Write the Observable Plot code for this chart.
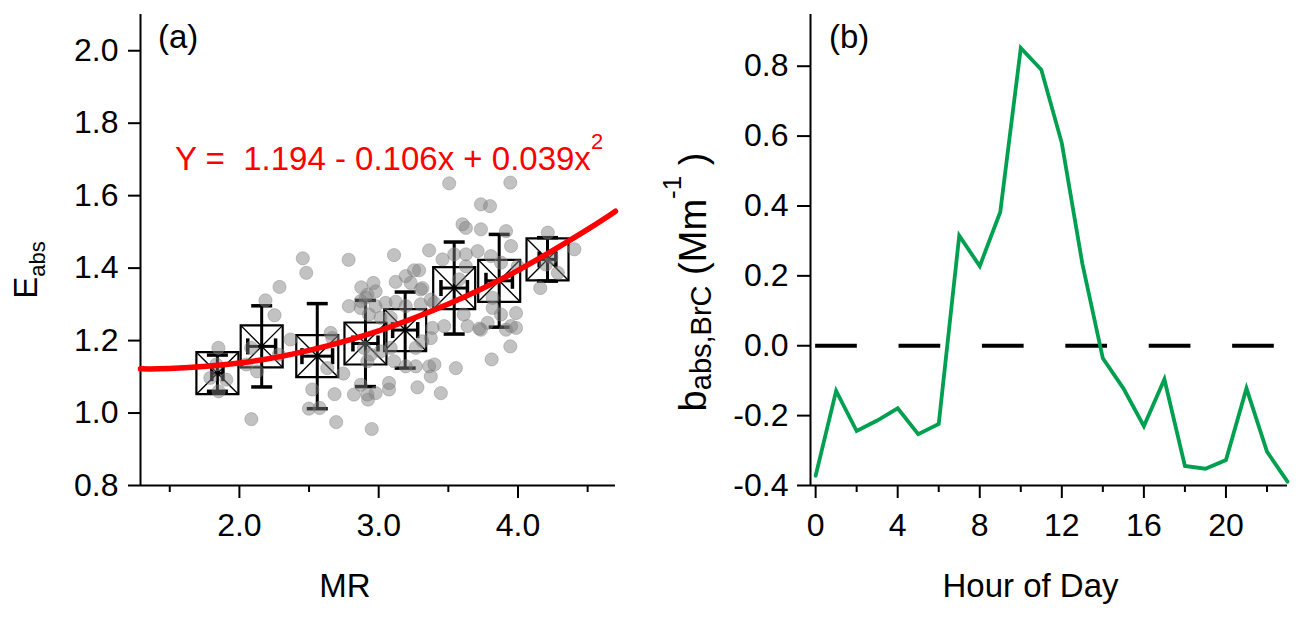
<!DOCTYPE html>
<html><head><meta charset="utf-8">
<script src="https://cdn.jsdelivr.net/npm/d3@7"></script>
<script src="https://cdn.jsdelivr.net/npm/@observablehq/plot@0.6"></script>
<style>
body{margin:0;background:#fff;}
#wrap{position:relative;width:1303px;height:617px;overflow:hidden;}
#pa{position:absolute;left:0;top:0;}
#pb{position:absolute;left:650px;top:0;}
</style></head><body>
<div id="wrap"><div id="pa"></div><div id="pb"></div></div>
<script>
// ---------- Panel (a) data ----------
const ptMR = [1.849,1.835,1.906,1.851,1.791,2.084,2.127,2.187,2.252,2.288,2.367,2.283,2.455,2.480,2.086,2.523,2.499,2.576,2.683,2.746,2.655,2.667,2.631,2.786,2.784,2.875,2.962,2.822,2.871,2.919,2.923,2.894,2.930,2.871,2.919,2.695,2.950,2.050,3.110,3.362,3.458,3.542,3.626,3.710,3.254,3.290,3.194,3.230,3.122,2.978,2.906,3.302,2.871,2.978,3.050,3.122,3.302,3.398,3.014,3.086,3.386,3.470,3.638,3.722,3.374,3.314,3.266,3.086,3.014,2.942,2.919,3.110,3.194,3.266,3.362,3.554,3.374,3.074,3.074,3.278,3.446,2.978,3.506,3.945,3.734,3.799,3.602,3.626,3.734,3.914,3.950,4.214,4.405,3.806,3.626,3.878,3.998,4.160,4.286,3.314,3.374,3.578,3.818,3.818,3.878,3.986,3.950,3.914,3.986,3.782,3.734,3.945,3.811,3.610,3.194,3.400,4.240,4.200];
const ptEabs = [1.180,1.134,1.092,1.060,1.097,1.180,1.115,1.311,1.270,1.348,1.203,1.161,1.427,1.387,0.983,1.065,1.012,1.014,1.052,1.109,1.221,1.207,1.124,1.295,1.423,1.347,1.359,1.051,1.078,1.051,1.037,1.180,1.272,1.309,1.327,0.975,0.956,1.134,1.436,1.449,1.424,1.438,1.438,1.447,1.394,1.394,1.378,1.359,1.362,1.336,1.318,1.341,1.290,1.295,1.304,1.307,1.300,1.304,1.263,1.263,1.235,1.240,1.240,1.233,1.207,1.198,1.180,1.180,1.170,1.161,1.143,1.143,1.129,1.129,1.129,1.124,1.101,1.083,1.065,1.071,1.055,1.055,1.634,1.636,1.576,1.571,1.521,1.511,1.507,1.502,1.461,1.498,1.452,1.433,1.405,1.415,1.405,1.345,1.387,1.345,1.313,1.369,1.318,1.290,1.272,1.276,1.240,1.230,1.235,1.249,1.230,1.184,1.148,1.272,1.295,1.134,1.430,1.410];

const binMR     = [1.842, 2.160, 2.559, 2.905, 3.190, 3.542, 3.865, 4.212];
const binMRSd   = [0.040, 0.100, 0.110, 0.090, 0.090, 0.095, 0.095, 0.060];
const binEabs   = [1.110, 1.184, 1.157, 1.192, 1.229, 1.345, 1.365, 1.424];
const binEabsSd = [0.050, 0.112, 0.145, 0.119, 0.105, 0.127, 0.128, 0.060];

const fitMR   = [1.29, 1.5, 2.0, 2.5, 3.0, 3.5, 4.0, 4.5, 4.70];
const fitEabs = [1.122, 1.123, 1.138, 1.173, 1.227, 1.301, 1.394, 1.507, 1.557];

const tickEabs = [0.8, 1.0, 1.2, 1.4, 1.6, 1.8, 2.0];
const tickMRMajor = [2.0, 3.0, 4.0];
const tickMRMinor = [1.5, 2.5, 3.5, 4.5];

// ---------- Panel (b) data ----------
const hour = [0,1,2,3,4,5,6,7,8,9,10,11,12,13,14,15,16,17,18,19,20,21,22,23];
const babsBrC = [-0.372,-0.129,-0.244,-0.214,-0.179,-0.253,-0.224,0.315,0.228,0.383,0.852,0.790,0.580,0.235,-0.036,-0.122,-0.230,-0.096,-0.344,-0.352,-0.327,-0.122,-0.303,-0.389];
const tickB = [-0.4, -0.2, 0.0, 0.2, 0.4, 0.6, 0.8];
const tickHourMajor = [0, 4, 8, 12, 16, 20];
const tickHourMinor = [2, 6, 10, 14, 18, 22];

const FONT = "'Liberation Sans', Arial, sans-serif";
const fmt1 = d => d.toFixed(1);

// custom symbols
const boxSym = {draw(ctx){const s=21; ctx.moveTo(-s,-s); ctx.lineTo(s,-s); ctx.lineTo(s,s); ctx.lineTo(-s,s); ctx.closePath();}};
const crossSym = {draw(ctx){const s=21; ctx.moveTo(-s,-s); ctx.lineTo(s,s); ctx.moveTo(s,-s); ctx.lineTo(-s,s);}};
const hCap = {draw(ctx){ctx.moveTo(-10.5,0); ctx.lineTo(10.5,0);}};
const vCap = {draw(ctx){ctx.moveTo(0,-8); ctx.lineTo(0,8);}};

const bi = binMR.map((_, i) => i);
const pi = ptMR.map((_, i) => i);
const fi = fitMR.map((_, i) => i);

const svgA = Plot.plot({
  width: 640, height: 617,
  marginLeft: 140, marginRight: 25, marginTop: 14, marginBottom: 132,
  style: {fontFamily: FONT, fontSize: "32px", color: "#000", background: "transparent", overflow: "visible"},
  x: {domain: [1.29, 4.70], label: null},
  y: {domain: [0.8, 2.1], label: null},
  marks: [
    Plot.ruleX([1.29], {stroke: "black", strokeWidth: 2}),
    Plot.ruleY([0.8], {stroke: "black", strokeWidth: 2}),
    Plot.axisY(tickEabs, {tickSize: 12, tickPadding: 10, tickFormat: fmt1, strokeWidth: 2, label: null}),
    Plot.axisX(tickMRMajor, {tickSize: 13, tickPadding: 15, tickFormat: fmt1, strokeWidth: 2, label: null}),
    Plot.axisX(tickMRMinor, {tickSize: 7, tickFormat: () => "", strokeWidth: 2, label: null}),
    // binned means: box-with-X markers and error bars
    Plot.dot(bi, {x: i => binMR[i], y: i => binEabs[i], symbol: boxSym, fill: "none", stroke: "black", strokeWidth: 2.2}),
    Plot.dot(bi, {x: i => binMR[i], y: i => binEabs[i], symbol: crossSym, fill: "none", stroke: "black", strokeWidth: 1.4}),
    Plot.ruleX(bi, {x: i => binMR[i], y1: i => binEabs[i] - binEabsSd[i], y2: i => binEabs[i] + binEabsSd[i], stroke: "black", strokeWidth: 3}),
    Plot.dot(bi, {x: i => binMR[i], y: i => binEabs[i] - binEabsSd[i], symbol: hCap, fill: "none", stroke: "black", strokeWidth: 3.5}),
    Plot.dot(bi, {x: i => binMR[i], y: i => binEabs[i] + binEabsSd[i], symbol: hCap, fill: "none", stroke: "black", strokeWidth: 3.5}),
    Plot.ruleY(bi, {y: i => binEabs[i], x1: i => binMR[i] - binMRSd[i], x2: i => binMR[i] + binMRSd[i], stroke: "black", strokeWidth: 3}),
    Plot.dot(bi, {x: i => binMR[i] - binMRSd[i], y: i => binEabs[i], symbol: vCap, fill: "none", stroke: "black", strokeWidth: 3.5}),
    Plot.dot(bi, {x: i => binMR[i] + binMRSd[i], y: i => binEabs[i], symbol: vCap, fill: "none", stroke: "black", strokeWidth: 3.5}),
    // scatter points
    Plot.dot(pi, {x: i => ptMR[i], y: i => ptEabs[i], r: 6.6, fill: "#808080", fillOpacity: 0.48, stroke: "#808080", strokeOpacity: 0.4, strokeWidth: 1}),
    // quadratic fit
    Plot.line(fi, {x: i => fitMR[i], y: i => fitEabs[i], curve: "natural", stroke: "#ff0000", strokeWidth: 5.5})
  ]
});
document.getElementById("pa").appendChild(svgA);

const ga = d3.select(svgA).append("g").attr("font-family", FONT).attr("fill", "black").attr("text-anchor", "start");
ga.append("text").attr("x", 158).attr("y", 48).attr("font-size", 33).attr("text-anchor", "start").text("(a)");
ga.append("text").attr("x", 345).attr("y", 597).attr("font-size", 33).attr("text-anchor", "middle").text("MR");
const eq = ga.append("text").attr("x", 175).attr("y", 170).attr("font-size", 33).attr("text-anchor", "start").attr("fill", "#ff0000");
eq.append("tspan").text("Y =\u00a0 1.194 - 0.106x + 0.039x");
eq.append("tspan").attr("font-size", 22).attr("dy", -21).text("2");
const ylA = ga.append("text").attr("transform", "translate(37,270) rotate(-90)").attr("text-anchor", "middle").attr("font-size", 33);
ylA.append("tspan").text("E");
ylA.append("tspan").attr("font-size", 22).attr("dy", 8).text("abs");

const hi = hour.map((_, i) => i);
const svgB = Plot.plot({
  width: 653, height: 617,
  marginLeft: 160, marginRight: 16, marginTop: 14, marginBottom: 132,
  style: {fontFamily: FONT, fontSize: "32px", color: "#000", background: "transparent", overflow: "visible"},
  x: {domain: [-0.25, 23], label: null},
  y: {domain: [-0.4, 0.948], label: null},
  marks: [
    Plot.ruleX([-0.25], {stroke: "black", strokeWidth: 2}),
    Plot.ruleY([-0.4], {stroke: "black", strokeWidth: 2}),
    Plot.axisY(tickB, {tickSize: 13, tickPadding: 9, tickFormat: fmt1, strokeWidth: 2, label: null}),
    Plot.axisX(tickHourMajor, {tickSize: 13, tickPadding: 15, tickFormat: d => String(d), strokeWidth: 2, label: null}),
    Plot.axisX(tickHourMinor, {tickSize: 7, tickFormat: () => "", strokeWidth: 2, label: null}),
    Plot.ruleY([0], {x1: hour[0], x2: hour[hour.length - 1], stroke: "black", strokeWidth: 4, strokeDasharray: "41.7,41.7"}),
    Plot.line(hi, {x: i => hour[i], y: i => babsBrC[i], stroke: "#00a050", strokeWidth: 3.8, strokeLinejoin: "miter", strokeMiterlimit: 4})
  ]
});
document.getElementById("pb").appendChild(svgB);

const gb = d3.select(svgB).append("g").attr("font-family", FONT).attr("fill", "black").attr("text-anchor", "start");
gb.append("text").attr("x", 179).attr("y", 48).attr("font-size", 33).attr("text-anchor", "start").text("(b)");
gb.append("text").attr("x", 380.5).attr("y", 597).attr("font-size", 33).attr("text-anchor", "middle").text("Hour of Day");
const ylB = gb.append("text").attr("transform", "translate(56,282) rotate(-90)").attr("text-anchor", "middle").attr("font-size", 38);
ylB.append("tspan").text("b");
ylB.append("tspan").attr("font-size", 29).attr("dy", 5).text("abs,BrC");
ylB.append("tspan").attr("dy", -5).text(" (Mm");
ylB.append("tspan").attr("font-size", 26).attr("dy", -25).text("-1");
ylB.append("tspan").attr("dy", 25).text(" )");
</script>
</body></html>
